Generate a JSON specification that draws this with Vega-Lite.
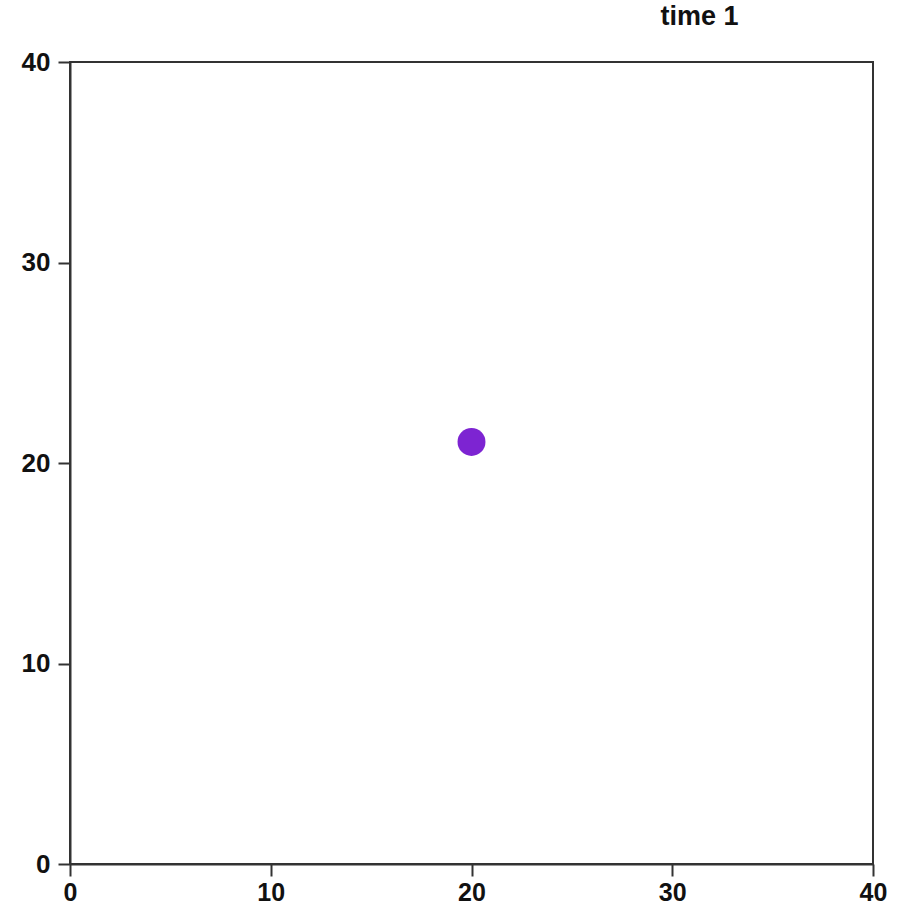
{
  "$schema": "https://vega.github.io/schema/vega-lite/v6.json",
  "autosize": "none",
  "width": 803,
  "height": 802,
  "padding": {"left": 70, "top": 62, "right": 40, "bottom": 45},
  "background": "white",
  "title": {"text": "time 1", "anchor": "middle", "dx": 228, "offset": 18, "font": "Liberation Sans", "fontSize": 27, "fontWeight": "bold", "color": "#111"},
  "data": {"values": [{"x": 20, "y": 21.05}]},
  "mark": {"type": "circle", "size": 780, "opacity": 1, "color": "#7d24d2"},
  "encoding": {
    "x": {"field": "x", "type": "quantitative", "scale": {"domain": [0, 40], "nice": false}, "axis": {"values": [0, 10, 20, 30, 40], "title": null, "labelPadding": 4, "labelFontSize": 25}},
    "y": {"field": "y", "type": "quantitative", "scale": {"domain": [0, 40], "nice": false}, "axis": {"values": [0, 10, 20, 30, 40], "title": null, "labelPadding": 8}}
  },
  "config": {
    "view": {"stroke": "#333", "strokeWidth": 2},
    "axis": {"grid": false, "domainColor": "#333", "domainWidth": 2, "tickColor": "#333", "tickWidth": 2, "tickSize": 12, "labelFont": "Liberation Sans", "labelFontSize": 26, "labelFontWeight": "bold", "labelColor": "#111", "labelFlush": false, "labelOverlap": false}
  }
}
